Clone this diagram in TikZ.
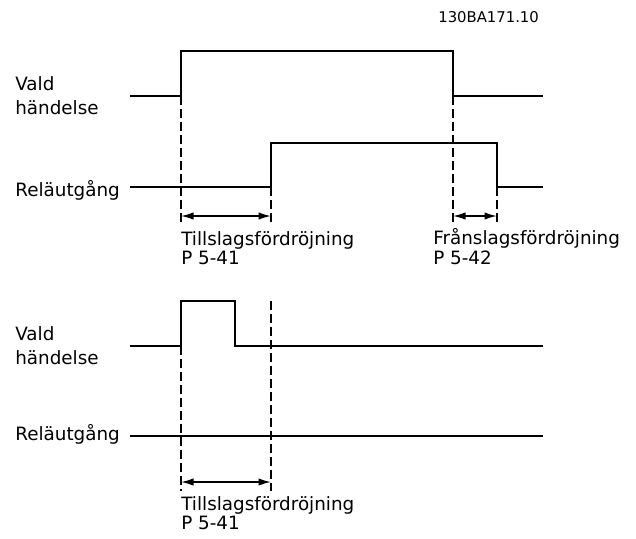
\documentclass[tikz,border=0pt]{standalone}
\usepackage{fontspec}
\setmainfont{DejaVu Sans}
\usetikzlibrary{arrows.meta,positioning}

\begin{document}
\begin{tikzpicture}[
        x=0.6pt, y=-0.6pt,
        signal/.style={line width=1.1pt},
        guide/.style={line width=0.8pt, dash pattern=on 5.4pt off 2.4pt},
        arrow/.style={{Latex[length=7.5pt,width=4.4pt]}-{Latex[length=7.5pt,width=4.4pt]}, line width=0.9pt},
        sig/.style={anchor=base west, align=left, inner sep=0pt, font=\fontsize{11}{14.4}\selectfont},
        delay/.style={anchor=base west, align=left, inner sep=0pt, font=\fontsize{11}{10.2}\selectfont}
    ]
        \useasboundingbox (0,0) rectangle (636,538);
        \node[anchor=base west, inner sep=0pt, font=\fontsize{8.9}{10}\selectfont] (code) at (438,22) {130BA171.10};

        % upper diagram
        \node[sig] (event1) at (15,114) {Vald\\händelse};
        \node[sig] (relay1) at (15,196) {Reläutgång};
        \draw[signal] (130,96) -- (181,96) -- (181,51) -- (453,51) -- (453,96) -- (543,96);
        \draw[signal] (130,187) -- (271,187) -- (271,143) -- (497,143) -- (497,187) -- (543,187);
        \draw[guide] (181,96) -- (181,225);
        \draw[guide] (271,187) -- (271,225);
        \draw[guide] (453,96) -- (453,225);
        \draw[guide] (497,187) -- (497,225);
        \coordinate (on1) at (181,216);
        \coordinate (on2) at (271,216);
        \coordinate (off1) at (453,216);
        \coordinate (off2) at (497,216);
        \draw[arrow] (on1) -- (on2);
        \draw[arrow] (off1) -- (off2);
        \node[delay] (ondelay1) at (181,264) {Tillslagsfördröjning\\P 5-41};
        \node[delay] (offdelay1) at (433,264) {Frånslagsfördröjning\\P 5-42};

        % lower diagram
        \node[sig] (event2) at (15,364) {Vald\\händelse};
        \node[sig] (relay2) at (15,440) {Reläutgång};
        \draw[signal] (130,346) -- (181,346) -- (181,301) -- (235,301) -- (235,346) -- (543,346);
        \draw[signal] (130,436) -- (543,436);
        \draw[guide] (181,346) -- (181,491);
        \draw[guide] (271,301) -- (271,491);
        \coordinate (on3) at (181,482);
        \coordinate (on4) at (271,482);
        \draw[arrow] (on3) -- (on4);
        \node[delay] (ondelay2) at (181,529) {Tillslagsfördröjning\\P 5-41};

    \end{tikzpicture}
\end{document}
